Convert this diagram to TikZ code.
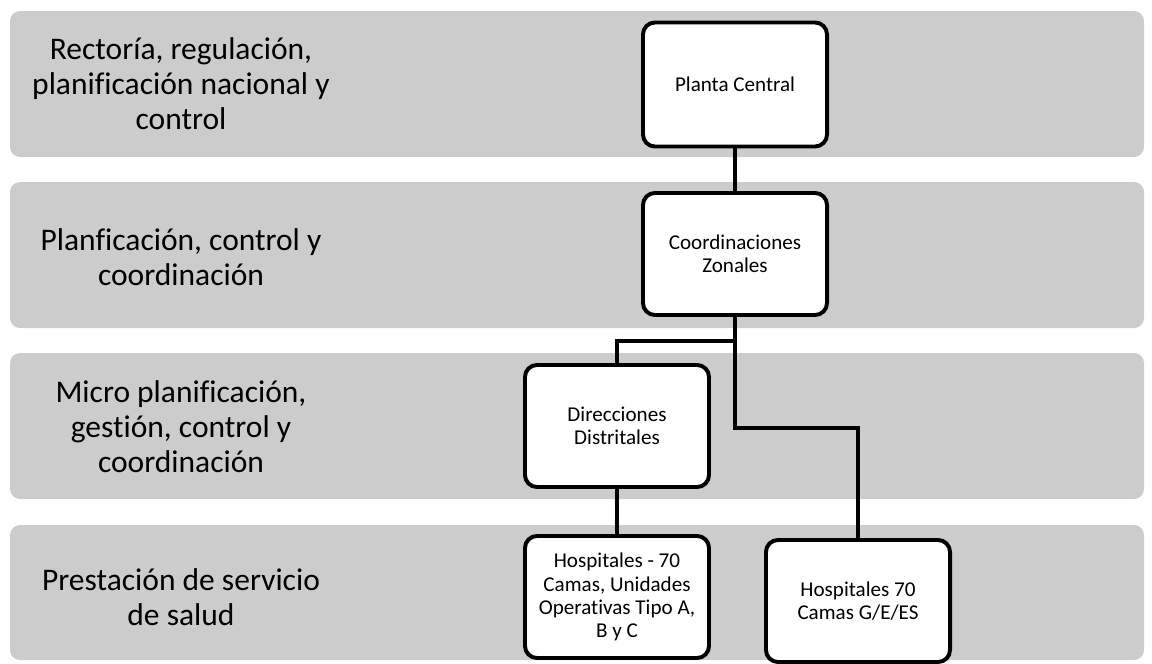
\documentclass[tikz,border=0pt]{standalone}
\usepackage{fontspec}
\setmainfont{Carlito}[Ligatures={NoCommon}]
\usetikzlibrary{positioning}

\tikzset{
	band/.style={fill=black!20, draw=none, rounded corners=0.25cm},
	bandtext/.style={align=center, font=\fontsize{22.4}{25}\selectfont},
	unitbox/.style={draw=black, fill=white, line width=2.8pt, rounded corners=0.3cm,
		align=center, minimum width=4.6cm, minimum height=3.05cm, inner sep=2pt,
		font=\fontsize{15}{16.5}\selectfont},
	conn/.style={line width=2.8pt}
}

\begin{document}
\begin{tikzpicture}[x=0.025cm,y=-0.025cm]
		\useasboundingbox (0,0) rectangle (1152,664);
		
		% Niveles
		\draw[band] (10,11) rectangle (1144,157);
		\draw[band] (10,182) rectangle (1144,328);
		\draw[band] (10,353) rectangle (1144,499);
		\draw[band] (10,525) rectangle (1144,660);
		
		\node[bandtext] (lvlrect) at (181,84) {Rectoría, regulación,\\planificación nacional y\\control};
		\node[bandtext] (lvlplan) at (181,257) {Planficación, control y\\coordinación};
		\node[bandtext] (lvlmicro) at (181,427) {Micro planificación,\\gestión, control y\\coordinación};
		\node[bandtext] (lvlserv) at (181,597) {Prestación de servicio\\de salud};
		
		% Unidades
		\node[unitbox, minimum height=3.1cm] (planta) at (735,84.5) {Planta Central};
		\node[unitbox] (coord) at (735,254) {Coordinaciones\\Zonales};
		\node[unitbox] (direcc) at (617,426) {Direcciones\\Distritales};
		\node[unitbox] (hospa) at (617,597) {Hospitales - 70\\Camas, Unidades\\Operativas Tipo A,\\B y C};
		\node[unitbox] (hospb) at (858,601) {Hospitales 70\\Camas G/E/ES};
		
		% Conexiones
		\coordinate (split1) at (coord.south |- 0,341);
		\coordinate (split2) at (coord.south |- 0,428);
		\draw[conn] (planta) -- (coord);
		\draw[conn] (coord.south) -- (split1) -| (direcc.north);
		\draw[conn] (split1) -- (split2) -| (hospb.north);
		\draw[conn] (direcc) -- (hospa);
		
	\end{tikzpicture}
\end{document}
